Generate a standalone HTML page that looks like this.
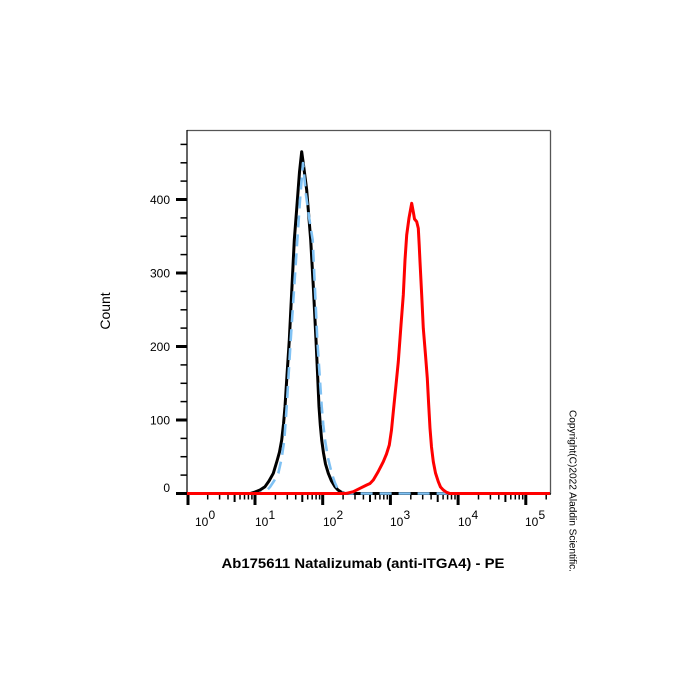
<!DOCTYPE html>
<html>
<head>
<meta charset="utf-8">
<style>
html,body{margin:0;padding:0;background:#fff;}
svg{display:block;}
text{font-family:"Liberation Sans",Arial,sans-serif;fill:#000;}
</style>
</head>
<body>
<svg width="700" height="700" viewBox="0 0 700 700" xmlns="http://www.w3.org/2000/svg">
<rect width="700" height="700" fill="#fff"/>
<!-- frame -->
<line x1="187" y1="130.5" x2="550.5" y2="130.5" stroke="#555" stroke-width="1.3"/>
<line x1="550.5" y1="130.5" x2="550.5" y2="494" stroke="#555" stroke-width="1.3"/>
<line x1="187" y1="130" x2="187" y2="494.5" stroke="#111" stroke-width="1.3"/>
<line x1="186.5" y1="494" x2="551" y2="494" stroke="#111" stroke-width="1.5"/>

<!-- Y ticks -->
<g stroke="#000">
<line x1="176" y1="493.5" x2="187" y2="493.5" stroke-width="3"/>
<line x1="176" y1="420" x2="187" y2="420" stroke-width="3"/>
<line x1="176" y1="346.5" x2="187" y2="346.5" stroke-width="3"/>
<line x1="176" y1="273" x2="187" y2="273" stroke-width="3"/>
<line x1="176" y1="199.5" x2="187" y2="199.5" stroke-width="3"/>
<g stroke-width="1.5">
<line x1="180.5" y1="475.1" x2="187" y2="475.1"/>
<line x1="180.5" y1="456.7" x2="187" y2="456.7"/>
<line x1="180.5" y1="438.4" x2="187" y2="438.4"/>
<line x1="180.5" y1="401.6" x2="187" y2="401.6"/>
<line x1="180.5" y1="383.3" x2="187" y2="383.3"/>
<line x1="180.5" y1="364.9" x2="187" y2="364.9"/>
<line x1="180.5" y1="328.1" x2="187" y2="328.1"/>
<line x1="180.5" y1="309.8" x2="187" y2="309.8"/>
<line x1="180.5" y1="291.4" x2="187" y2="291.4"/>
<line x1="180.5" y1="254.6" x2="187" y2="254.6"/>
<line x1="180.5" y1="236.3" x2="187" y2="236.3"/>
<line x1="180.5" y1="217.9" x2="187" y2="217.9"/>
<line x1="180.5" y1="181.1" x2="187" y2="181.1"/>
<line x1="180.5" y1="162.8" x2="187" y2="162.8"/>
<line x1="180.5" y1="144.4" x2="187" y2="144.4"/>
</g>
</g>
<!-- Y labels -->
<g font-size="12" text-anchor="end">
<text x="170" y="492">0</text>
<text x="170" y="424.3">100</text>
<text x="170" y="350.8">200</text>
<text x="170" y="277.3">300</text>
<text x="170" y="203.8">400</text>
</g>

<!-- X ticks -->
<g stroke="#000">
<line x1="188" y1="494" x2="188" y2="505" stroke-width="3"/>
<line x1="255" y1="494" x2="255" y2="505" stroke-width="3"/>
<line x1="322.7" y1="494" x2="322.7" y2="505" stroke-width="3"/>
<line x1="390.4" y1="494" x2="390.4" y2="505" stroke-width="3"/>
<line x1="458.1" y1="494" x2="458.1" y2="505" stroke-width="3"/>
<line x1="525.8" y1="494" x2="525.8" y2="505" stroke-width="3"/>
<g stroke-width="1.5">
<line x1="207.7" y1="494" x2="207.7" y2="499.5"/><line x1="219.6" y1="494" x2="219.6" y2="499.5"/><line x1="228" y1="494" x2="228" y2="499.5"/><line x1="234.6" y1="494" x2="234.6" y2="502" stroke-width="2"/><line x1="240" y1="494" x2="240" y2="499.5"/><line x1="244.5" y1="494" x2="244.5" y2="499.5"/><line x1="248.4" y1="494" x2="248.4" y2="499.5"/><line x1="251.9" y1="494" x2="251.9" y2="499.5"/>
<line x1="275.4" y1="494" x2="275.4" y2="499.5"/><line x1="287.3" y1="494" x2="287.3" y2="499.5"/><line x1="295.7" y1="494" x2="295.7" y2="499.5"/><line x1="302.3" y1="494" x2="302.3" y2="502" stroke-width="2"/><line x1="307.7" y1="494" x2="307.7" y2="499.5"/><line x1="312.2" y1="494" x2="312.2" y2="499.5"/><line x1="316.1" y1="494" x2="316.1" y2="499.5"/><line x1="319.6" y1="494" x2="319.6" y2="499.5"/>
<line x1="343.1" y1="494" x2="343.1" y2="499.5"/><line x1="355" y1="494" x2="355" y2="499.5"/><line x1="363.4" y1="494" x2="363.4" y2="499.5"/><line x1="370" y1="494" x2="370" y2="502" stroke-width="2"/><line x1="375.4" y1="494" x2="375.4" y2="499.5"/><line x1="379.9" y1="494" x2="379.9" y2="499.5"/><line x1="383.8" y1="494" x2="383.8" y2="499.5"/><line x1="387.3" y1="494" x2="387.3" y2="499.5"/>
<line x1="410.8" y1="494" x2="410.8" y2="499.5"/><line x1="422.7" y1="494" x2="422.7" y2="499.5"/><line x1="431.1" y1="494" x2="431.1" y2="499.5"/><line x1="437.7" y1="494" x2="437.7" y2="502" stroke-width="2"/><line x1="443.1" y1="494" x2="443.1" y2="499.5"/><line x1="447.6" y1="494" x2="447.6" y2="499.5"/><line x1="451.5" y1="494" x2="451.5" y2="499.5"/><line x1="455" y1="494" x2="455" y2="499.5"/>
<line x1="478.5" y1="494" x2="478.5" y2="499.5"/><line x1="490.4" y1="494" x2="490.4" y2="499.5"/><line x1="498.8" y1="494" x2="498.8" y2="499.5"/><line x1="505.4" y1="494" x2="505.4" y2="502" stroke-width="2"/><line x1="510.8" y1="494" x2="510.8" y2="499.5"/><line x1="515.3" y1="494" x2="515.3" y2="499.5"/><line x1="519.2" y1="494" x2="519.2" y2="499.5"/><line x1="522.7" y1="494" x2="522.7" y2="499.5"/>
<line x1="546.2" y1="494" x2="546.2" y2="499.5"/>
</g>
</g>

<!-- X labels -->
<g font-size="12">
<text x="195" y="526">10</text><text x="208.5" y="519">0</text>
<text x="255" y="526">10</text><text x="268.5" y="519">1</text>
<text x="323" y="526">10</text><text x="336.5" y="519">2</text>
<text x="390" y="526">10</text><text x="403.5" y="519">3</text>
<text x="458" y="526">10</text><text x="471.5" y="519">4</text>
<text x="525" y="526">10</text><text x="538.5" y="519">5</text>
</g>

<!-- axis titles -->
<text x="0" y="0" font-size="14" text-anchor="middle" transform="translate(110,311) rotate(-90)">Count</text>
<text x="221.5" y="568" font-size="14" font-weight="bold" textLength="283" lengthAdjust="spacingAndGlyphs">Ab175611 Natalizumab (anti-ITGA4) - PE</text>
<text x="0" y="0" font-size="10" textLength="162" lengthAdjust="spacingAndGlyphs" transform="translate(569.5,410) rotate(90)">Copyright(C)2022 Aladdin Scientific.</text>

<!-- black curve -->
<polyline fill="none" stroke="#000" stroke-width="3" stroke-linejoin="round" points="187,493.5 250,493.5 255,492 260,490 265,486.7 269,481 273.3,473.3 277,461 279.5,452 281.7,440 283.5,424 285,406.7 287,375 289.3,340 291.8,290 294.3,240 297,205 299.5,172 301.7,151.7 303.5,165 306.7,190 310.7,240 313.5,290 316,340 317.6,375 319,406.7 320.3,425 321.7,440 323.5,453 325.5,464 328.3,473.3 331.5,481 335,486.7 338,490 341,492 345,493.5 550,493.5"/>

<!-- blue dashed curve -->
<polyline fill="none" stroke="#80c2f4" stroke-width="2.6" stroke-dasharray="12 7" stroke-linejoin="round" points="250,493.5 258,493.5 262,492.5 266.7,490.5 270,487 274,481 278.3,473.3 281.5,459 284.3,440 286.7,406.7 288.7,373 290.7,340 294,290 297.3,240 300,200 303,163 306,195 309.5,220 312.7,240 315,290 317.3,340 319.5,373 321.7,406.7 323.3,425 325,440 328,458 331.7,473.3 335,483 338.3,490 341,492.5 345,493.5 550,493.5"/>

<!-- red curve -->
<polyline fill="none" stroke="#ff0000" stroke-width="3" stroke-linejoin="round" points="187,493.5 345,493.5 346.7,493.3 353.3,491.7 360,488.3 366.7,485 370,483.5 373.3,480 378,472 383.3,461.7 386.5,454 389.3,445 391.5,430 393.3,411.7 396,385 398.3,361.7 401,325 403.3,295 405,260 406.7,235 409,218 411.7,203.3 413.5,213 414.5,219 416.7,221.7 418.3,228.3 419.2,245 420,261.7 421.7,295 423.3,328.3 425.5,355 427.3,378.3 428.7,405 430,428.3 431.5,447 433.3,461.7 435.5,473 438.3,481.7 440.5,487 443.3,490 446.5,492.3 450,493.5 550,493.5"/>
</svg>
</body>
</html>
